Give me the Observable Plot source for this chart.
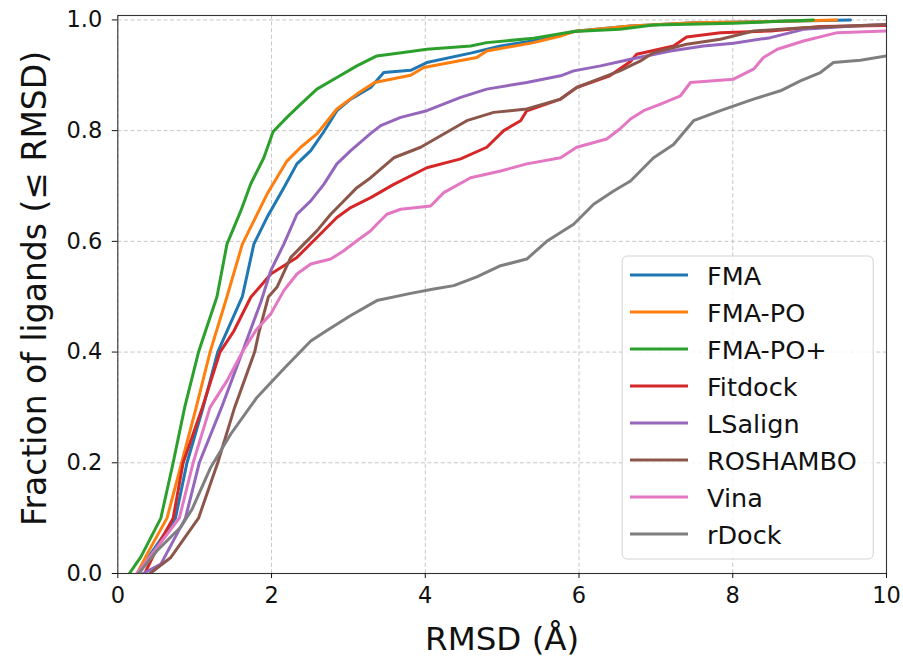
<!DOCTYPE html>
<html>
<head>
<meta charset="utf-8">
<script src="https://cdn.jsdelivr.net/npm/d3@7"></script>
<script src="https://cdn.jsdelivr.net/npm/@observablehq/plot@0.6"></script>
<style>
  html, body { margin: 0; padding: 0; background: #fff; }
  #wrap { position: relative; width: 903px; height: 657px; font-family: "DejaVu Sans", sans-serif; }
  #legend { position: absolute; left: 0; top: 0; pointer-events: none; }
</style>
</head>
<body>
<div id="wrap"></div>
<script>
// ---- Data ----
const methods = ["FMA", "FMA-PO", "FMA-PO+", "Fitdock", "LSalign", "ROSHAMBO", "Vina", "rDock"];
const colors  = ["#1f77b4", "#ff7f0e", "#2ca02c", "#d62728", "#9467bd", "#8c564b", "#e377c2", "#7f7f7f"];

const xTicks = [0, 2, 4, 6, 8, 10];
const yTicks = [0, 0.2, 0.4, 0.6, 0.8, 1.0];
const xLabel = "RMSD (Å)";
const yLabel = "Fraction of ligands (≤ RMSD)";

const rmsdFMA = [0.28,0.43,0.75,0.9,1.11,1.3,1.62,1.77,1.94,2.16,2.33,2.51,2.68,2.85,3.03,3.29,3.46,3.81,4.02,4.59,4.98,5.54,5.97,6.67,7.5,8.5,9.53];
const fracFMA = [0,0.036,0.1,0.2,0.3,0.4,0.5,0.595,0.643,0.697,0.74,0.764,0.798,0.836,0.857,0.878,0.905,0.909,0.923,0.94,0.953,0.965,0.98,0.989,0.995,0.997,1.0];

const rmsdFMAPO = [0.25,0.4,0.64,0.83,1.02,1.2,1.42,1.62,1.77,1.94,2.2,2.38,2.59,2.85,3.11,3.34,3.81,3.98,4.67,4.8,5.41,5.76,5.93,6.67,7.5,8.5,9.35];
const fracFMAPO = [0,0.04,0.1,0.2,0.3,0.4,0.5,0.595,0.637,0.685,0.745,0.77,0.794,0.839,0.866,0.887,0.9,0.914,0.932,0.944,0.959,0.971,0.979,0.989,0.995,0.997,1.0];

const rmsdFMAPOplus = [0.15,0.3,0.56,0.72,0.87,1.05,1.29,1.42,1.6,1.73,1.9,2.02,2.2,2.38,2.59,2.85,3.11,3.37,3.81,4.02,4.59,4.8,5.41,5.93,6.53,6.97,8.01,9.05];
const fracFMAPOplus = [0,0.03,0.1,0.2,0.3,0.4,0.5,0.595,0.655,0.704,0.751,0.798,0.824,0.848,0.875,0.896,0.917,0.935,0.943,0.947,0.953,0.959,0.967,0.979,0.983,0.991,0.994,1.0];

const rmsdFitdock = [0.35,0.56,0.72,0.85,1.1,1.33,1.51,1.73,1.9,1.99,2.33,2.59,2.85,3.03,3.29,3.59,4.02,4.46,4.8,5.02,5.24,5.32,5.76,5.97,6.4,6.67,6.75,7.23,7.4,7.84,8.49,9.14,10];
const fracFitdock = [0,0.06,0.1,0.2,0.3,0.4,0.438,0.499,0.526,0.541,0.571,0.607,0.643,0.661,0.679,0.703,0.733,0.749,0.77,0.8,0.818,0.836,0.857,0.878,0.899,0.925,0.938,0.953,0.969,0.977,0.98,0.988,0.99];

const rmsdLSalign = [0.33,0.56,0.88,1.06,1.35,1.62,1.86,1.99,2.16,2.33,2.51,2.68,2.85,3.03,3.29,3.42,3.68,4.02,4.46,4.8,5.32,5.76,5.93,6.28,6.67,7.19,7.62,8.01,8.49,8.92,9.57,10];
const fracLSalign = [0,0.017,0.1,0.2,0.3,0.4,0.49,0.547,0.595,0.649,0.673,0.703,0.74,0.764,0.795,0.809,0.824,0.836,0.86,0.875,0.887,0.899,0.908,0.917,0.929,0.944,0.953,0.958,0.968,0.983,0.989,0.992];

const rmsdROSHAMBO = [0.42,0.69,1.05,1.3,1.52,1.78,1.84,1.96,2.07,2.25,2.42,2.59,2.77,2.94,3.11,3.29,3.59,3.94,4.24,4.54,4.89,5.32,5.76,5.97,6.53,6.8,6.97,7.4,7.84,8.27,8.92,10];
const fracROSHAMBO = [0,0.029,0.1,0.2,0.3,0.4,0.438,0.5,0.517,0.571,0.595,0.619,0.649,0.673,0.697,0.715,0.751,0.77,0.794,0.818,0.833,0.839,0.857,0.878,0.908,0.926,0.941,0.956,0.965,0.98,0.986,0.992];

const rmsdVina = [0.25,0.51,0.8,0.98,1.2,1.42,1.62,1.8,1.99,2.16,2.33,2.51,2.77,2.94,3.11,3.29,3.37,3.5,3.68,4.07,4.24,4.59,4.98,5.32,5.76,5.97,6.36,6.53,6.67,6.84,7.06,7.32,7.45,8.01,8.27,8.4,8.58,8.92,9.36,10];
const fracVina = [0,0.047,0.1,0.2,0.3,0.348,0.4,0.44,0.469,0.511,0.541,0.559,0.568,0.583,0.601,0.619,0.631,0.649,0.658,0.664,0.688,0.715,0.727,0.74,0.751,0.77,0.785,0.803,0.821,0.836,0.848,0.863,0.887,0.893,0.911,0.932,0.947,0.962,0.977,0.98];

const rmsdrDock = [0.27,0.51,0.82,0.97,1.21,1.47,1.81,2.16,2.51,2.72,3.03,3.37,3.81,4.11,4.37,4.67,4.98,5.32,5.58,5.93,6.19,6.45,6.67,6.97,7.23,7.49,7.84,8.27,8.62,8.88,9.14,9.31,9.66,10];
const fracrDock = [0,0.041,0.084,0.117,0.192,0.252,0.318,0.37,0.42,0.439,0.466,0.493,0.506,0.514,0.52,0.536,0.556,0.568,0.6,0.631,0.667,0.691,0.709,0.751,0.775,0.818,0.836,0.857,0.872,0.89,0.905,0.923,0.927,0.935];

const seriesX = [rmsdFMA, rmsdFMAPO, rmsdFMAPOplus, rmsdFitdock, rmsdLSalign, rmsdROSHAMBO, rmsdVina, rmsdrDock];
const seriesY = [fracFMA, fracFMAPO, fracFMAPOplus, fracFitdock, fracLSalign, fracROSHAMBO, fracVina, fracrDock];

// Build a long table for Plot
const rows = [];
methods.forEach((m, i) => {
  seriesX[i].forEach((x, j) => rows.push({method: m, rmsd: x, frac: seriesY[i][j]}));
});

const font = "DejaVu Sans";
const gridStyle = {stroke: "#b0b0b0", strokeOpacity: 0.8, strokeWidth: 0.9, strokeDasharray: "4,2.6"};

const chart = Plot.plot({
  width: 903,
  height: 657,
  marginLeft: 117.3,
  marginRight: 17,
  marginTop: 15,
  marginBottom: 84,
  style: {fontFamily: font, background: "white", color: "#111"},
  x: {domain: [0, 10]},
  y: {domain: [0, 1.008]},
  color: {domain: methods, range: colors},
  marks: [
    Plot.gridX(xTicks, gridStyle),
    Plot.gridY(yTicks, gridStyle),
    Plot.line(rows, {x: "rmsd", y: "frac", z: "method", stroke: "method", strokeWidth: 3, clip: true}),
    Plot.frame({stroke: "#333", strokeWidth: 1.1}),
    Plot.axisX(xTicks, {tickSize: 5, tickPadding: 9, fontSize: 22.5, label: null, tickFormat: d => String(d)}),
    Plot.axisY(yTicks, {tickSize: 5.5, tickPadding: 10, fontSize: 22.5, label: null, tickFormat: d => d.toFixed(1)}),
    Plot.text([xLabel], {text: d => d, frameAnchor: "bottom", textAnchor: "middle", dy: 76, lineAnchor: "bottom", fontSize: 32.5, fill: "#111"}),
    Plot.text([yLabel], {text: d => d, frameAnchor: "left", textAnchor: "middle", rotate: -90, dx: -72, dy: -6, lineAnchor: "bottom", fontSize: 33, fill: "#111"})
  ]
});

const wrap = document.getElementById("wrap");
wrap.appendChild(chart);

// ---- Legend overlay (matplotlib style) ----
const legendX = 622.2, legendY = 256, legendW = 251, legendH = 303;
const rowStart = 275, rowStep = 37;
const svg = d3.select(wrap).append("svg")
  .attr("id", "legend")
  .attr("width", 903).attr("height", 657);
svg.append("rect")
  .attr("x", legendX).attr("y", legendY)
  .attr("width", legendW).attr("height", legendH)
  .attr("rx", 5).attr("ry", 5)
  .attr("fill", "white").attr("fill-opacity", 0.8)
  .attr("stroke", "#d3d3d3").attr("stroke-width", 1);
const items = svg.selectAll("g.item").data(methods).join("g").attr("class", "item")
  .attr("transform", (d, i) => `translate(0,${rowStart + i * rowStep})`);
items.append("line")
  .attr("x1", 630).attr("x2", 688).attr("y1", 0).attr("y2", 0)
  .attr("stroke", (d, i) => colors[i]).attr("stroke-width", 3);
items.append("text")
  .attr("x", 707).attr("y", 9.5)
  .attr("font-family", font).attr("font-size", 25.5).attr("fill", "#111")
  .text(d => d);
</script>
</body>
</html>
